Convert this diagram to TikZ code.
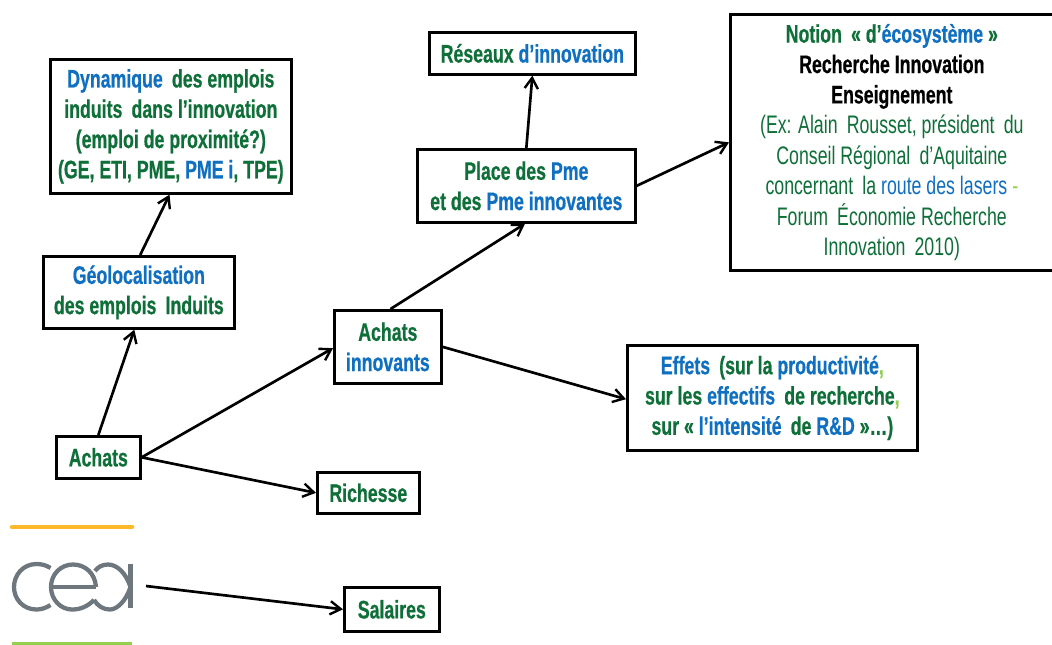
\documentclass[tikz,border=0pt]{standalone}
\usepackage{fontspec}
\setmainfont[FakeStretch=0.7,BoldFont={Liberation Sans Bold},BoldFeatures={FakeBold=0.6}]{Liberation Sans}
\usetikzlibrary{arrows.meta,calc}
\definecolor{dgreen}{HTML}{0E7038}
\definecolor{mblue}{HTML}{0F6FC0}
\definecolor{lgreen}{HTML}{92D050}
\definecolor{logogray}{HTML}{6E777E}
\definecolor{logoyellow}{HTML}{FDB92A}
\newcommand{\bl}[1]{\textcolor{mblue}{#1}}
\newcommand{\lgn}[1]{\textcolor{lgreen}{#1}}
\tikzset{
  box/.style={draw=black,line width=2pt,fill=white,anchor=north west,inner sep=0pt,align=center,
    text=dgreen,font=\fontsize{19}{22.7}\selectfont\bfseries},
  thinbox/.style={box,font=\fontsize{19}{22.8}\selectfont},
  link/.style={draw=black,line width=2pt,-{Straight Barb[length=8pt,width=10pt,line width=1.8pt]}},
  logo/.style={draw=logogray,line width=3.2pt}
}
\begin{document}
\begin{tikzpicture}[x=0.75pt,y=-0.75pt]
\useasboundingbox (0,0) rectangle (1052,644);
\fill[white] (0,0) rectangle (1052,644);
% logo
\draw[logoyellow,line width=3.4pt,line cap=round] (12,527) -- (132,527);
\draw[lgreen,line width=3pt] (12,644) -- (132,644);
\draw[logo] (50.5,568) .. controls (46,565) and (41,564) .. (36.5,564) .. controls (23,564) and (14,575) .. (14,587) .. controls (14,599) and (23,609.5) .. (36.5,609.5) .. controls (41,609.5) and (46,608) .. (50.5,605);
\draw[logo] (50,587) -- (96,587);
\draw[logo] (96,587) .. controls (95,573) and (85,564.5) .. (73,564.5) .. controls (61,564.5) and (51,574) .. (51,587) .. controls (51,600) and (61,609.5) .. (72,609.5) .. controls (81,609.5) and (88,606) .. (94,600);
\draw[logo] (130.5,564) -- (130.5,608);
\draw[logo] (130.5,587) .. controls (126,573) and (117,564.5) .. (108,564.5) .. controls (102,564.5) and (98,567) .. (95,571);
\draw[logo] (130.5,587) .. controls (126,601) and (117,609.5) .. (110,609.5) .. controls (103,609.5) and (98,606) .. (94,600);
% boxes
\node[box,minimum width=241*0.75pt,minimum height=134*0.75pt] (dyn) at (49,58)
 {\bl{Dynamique}\, des emplois\\induits\, dans l’innovation\\(emploi de proximité?)\\(GE, ETI, PME, \bl{PME i}, TPE)};
\node[box,minimum width=191*0.75pt,minimum height=72*0.75pt] (geo) at (42,255)
 {\bl{Géolocalisation}\\des emplois\, Induits};
\node[box,minimum width=84*0.75pt,minimum height=42*0.75pt] (ach) at (55,435) {Achats};
\node[box,minimum width=102*0.75pt,minimum height=41*0.75pt] (ric) at (316,471) {Richesse};
\node[box,minimum width=95*0.75pt,minimum height=44*0.75pt] (sal) at (343,586) {Salaires};
\node[box,minimum width=107*0.75pt,minimum height=73*0.75pt] (ain) at (333,309) {Achats\\\bl{innovants}};
\node[box,minimum width=218*0.75pt,minimum height=73*0.75pt] (pla) at (416,148)
 {Place des \bl{Pme}\\et des \bl{Pme innovantes}};
\node[box,minimum width=206*0.75pt,minimum height=42*0.75pt] (res) at (428,31) {Réseaux \bl{d’innovation}};
\node[box,minimum width=290*0.75pt,minimum height=105*0.75pt] (eff) at (626,344)
 {\bl{Effets}\, (sur la \bl{productivité}\lgn{,}\\sur les \bl{effectifs}\, de recherche\lgn{,}\\sur « \bl{l’intensité}\, de \bl{R\&D} »…)};
\node[thinbox,minimum width=323*0.75pt,minimum height=256*0.75pt] (not) at (729,13)
 {{\bfseries Notion\, « d'\bl{écosystème} »}\\{\bfseries\color{black}Recherche Innovation}\\{\bfseries\color{black}Enseignement}\\(Ex: Alain\, Rousset, président\, du\\Conseil Régional\, d'Aquitaine\\concernant\, la \bl{route des lasers} \lgn{-}\\Forum\, Économie Recherche\\Innovation\, 2010)};
\coordinate (lgo) at (146,586);
% connectors
\draw[link] (ach.north) -- ([xshift=-3.4pt]geo.south);
\draw[link] ([xshift=1pt]geo.north) -- ([xshift=-1pt]dyn.south);
\draw[link] (ach.east) -- ([yshift=-1pt]ain.west);
\draw[link] (ach.east) -- (ric.west);
\draw[link] ([xshift=2pt]ain.north) -- ([xshift=-1pt]pla.south);
\draw[link] (pla.north) -- (res.south);
\draw[link] (ain.east) -- ([yshift=-1pt]eff.west);
\draw[link] (pla.east) -- (not.west);
\draw[link] (lgo) -- (sal.west);
\end{tikzpicture}
\end{document}
